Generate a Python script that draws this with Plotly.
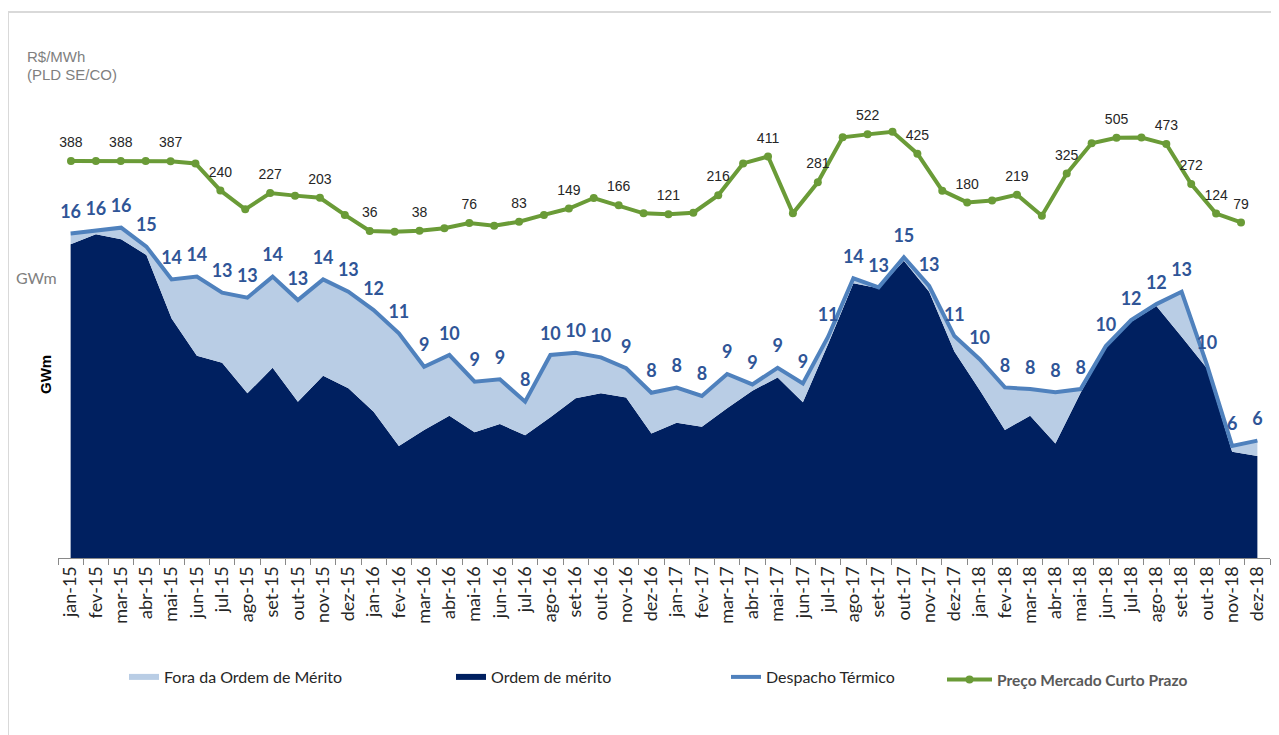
import plotly.graph_objects as go

months = ["jan-15","fev-15","mar-15","abr-15","mai-15","jun-15","jul-15","ago-15","set-15","out-15","nov-15","dez-15",
          "jan-16","fev-16","mar-16","abr-16","mai-16","jun-16","jul-16","ago-16","set-16","out-16","nov-16","dez-16",
          "jan-17","fev-17","mar-17","abr-17","mai-17","jun-17","jul-17","ago-17","set-17","out-17","nov-17","dez-17",
          "jan-18","fev-18","mar-18","abr-18","mai-18","jun-18","jul-18","ago-18","set-18","out-18","nov-18","dez-18"]

# Despacho Térmico total (GWm)
despacho = [15.71, 15.84, 15.98, 15.09, 13.55, 13.68, 12.93, 12.69, 13.68, 12.58, 13.55, 12.97,
            12.11, 11.02, 9.45, 10.0, 8.75, 8.86, 7.81, 10.0, 10.11, 9.89, 9.38, 8.23,
            8.47, 8.08, 9.11, 8.62, 9.4, 8.67, 10.86, 13.6, 13.18, 14.59, 13.24, 10.89,
            9.8, 8.48, 8.4, 8.25, 8.4, 10.42, 11.64, 12.39, 12.97, 9.55, 5.73, 5.98]

# Ordem de mérito (GWm)
ordem = [15.2, 15.67, 15.43, 14.7, 11.72, 9.97, 9.64, 8.2, 9.4, 7.81, 9.03, 8.44,
         7.34, 5.73, 6.48, 7.15, 6.37, 6.76, 6.23, 7.08, 7.97, 8.2, 8.01, 6.32,
         6.82, 6.63, 7.5, 8.32, 8.95, 7.78, 10.52, 13.37, 13.13, 14.43, 12.97, 10.16,
         8.36, 6.48, 7.15, 5.85, 8.23, 10.39, 11.56, 12.3, 10.86, 9.38, 5.46, 5.26]

fora = [round(d - o, 2) for d, o in zip(despacho, ordem)]

# Preço Mercado Curto Prazo (R$/MWh, PLD SE/CO)
preco = [388, 388, 388, 388, 387, 376, 240, 145, 227, 214, 203, 117,
         36, 33, 38, 50, 76, 63, 83, 117, 149, 202, 166, 125,
         121, 128, 216, 376, 411, 125, 281, 507, 522, 535, 425, 239,
         180, 190, 219, 113, 325, 477, 505, 506, 473, 272, 124, 79]

# months whose price is labelled on the chart
preco_rotulado = [0, 2, 4, 6, 8, 10, 12, 14, 16, 18, 20, 22, 24, 26, 28, 30,
                  32, 34, 36, 38, 40, 42, 44, 45, 46, 47]

preco_text = [str(v) if i in preco_rotulado else "" for i, v in enumerate(preco)]
preco_idx = list(range(len(preco)))

NAVY = "#002060"
LIGHT = "#B9CDE5"
LINEBLUE = "#4F81BD"
LABELBLUE = "#2F5597"
GREEN = "#6A9B37"

fig = go.Figure()

fig.add_trace(go.Scatter(
    x=months, y=ordem, name="Ordem de mérito", stackgroup="g", mode="none",
    fillcolor=NAVY, legend="legend2", hoverinfo="skip"))
fig.add_trace(go.Scatter(
    x=months, y=fora, name="Fora da Ordem de Mérito", stackgroup="g", mode="none",
    fillcolor=LIGHT, legend="legend", hoverinfo="skip"))
fig.add_trace(go.Scatter(
    x=months, y=despacho, name="Despacho Térmico", mode="lines",
    line=dict(color=LINEBLUE, width=4), legend="legend3"))
fig.add_trace(go.Scatter(
    x=months, y=despacho, mode="markers+text", showlegend=False,
    marker=dict(size=16, color="rgba(0,0,0,0)"),
    texttemplate="%{y:.0f}", textposition="top center",
    textfont=dict(family="Lato", size=18, color=LABELBLUE, weight="bold"),
    cliponaxis=False, hoverinfo="skip"))
fig.add_trace(go.Scatter(
    x=preco_idx, y=preco, name="Preço Mercado Curto Prazo",
    mode="lines+markers",
    line=dict(color=GREEN, width=4), marker=dict(color=GREEN, size=8),
    xaxis="x2", yaxis="y2", legend="legend4", cliponaxis=False))
fig.add_trace(go.Scatter(
    x=preco_idx, y=preco, mode="markers+text", text=preco_text, textposition="top center",
    textfont=dict(family="Liberation Sans", size=14, color="#262626"),
    marker=dict(size=15, color="rgba(0,0,0,0)"), showlegend=False,
    xaxis="x2", yaxis="y2", cliponaxis=False, hoverinfo="skip"))

# page body adds an 8px offset; figure is sized/placed to compensate
OFF = 8
W, H = 1279 - OFF, 735 - OFF
L, R, T, B = 58, 1270, 100, 558          # plot area in screen pixels
pw, ph = R - L, B - T

def px(x):
    return (x - L) / pw

def py(y):
    return (B - y) / ph

legend_common = dict(orientation="h", yanchor="middle", xanchor="left",
                     bgcolor="rgba(0,0,0,0)", font=dict(family="Lato", size=16, color="#262626"))

fig.update_layout(
    width=W, height=H,
    margin=dict(l=L - OFF, r=W - (R - OFF), t=T - OFF, b=H - (B - OFF), autoexpand=False),
    paper_bgcolor="white", plot_bgcolor="white",
    xaxis=dict(type="category", range=[-0.5, 47.5], tickangle=-90, tickson="boundaries",
               ticks="outside", ticklen=6, tickcolor="#898989", showline=True,
               linecolor="#898989", linewidth=1, showgrid=False, zeroline=False,
               tickfont=dict(family="Lato", size=18, color="#262626"), automargin=False),
    yaxis=dict(range=[0.47, 0.47 + ph / 21.3], visible=False, showgrid=False),
    xaxis2=dict(range=[-0.522, 48.165], overlaying="x", anchor="y", visible=False),
    yaxis2=dict(range=[-1607.8, 694.8], overlaying="y", anchor="x", visible=False),
    showlegend=True,
    legend=dict(x=px(124), y=py(677), **legend_common),
    legend2=dict(x=px(451), y=py(677), **legend_common),
    legend3=dict(x=px(726), y=py(677), **legend_common),
    legend4=dict(x=px(942), y=py(680), itemwidth=45, **{**legend_common,
                 "font": dict(family="Lato", size=15.5, color="#595959", weight="bold")}),
)

fig.add_shape(type="rect", xref="paper", yref="paper",
              x0=px(8), x1=px(1275), y0=py(760), y1=py(12),
              line=dict(color="#D9D9D9", width=2), fillcolor="rgba(0,0,0,0)", layer="below")

fig.add_annotation(text="R$/MWh", xref="paper", yref="paper", x=px(25), y=py(57),
                   xanchor="left", yanchor="middle", showarrow=False,
                   font=dict(family="Liberation Sans", size=15, color="#7F7F7F"))
fig.add_annotation(text="(PLD SE/CO)", xref="paper", yref="paper", x=px(25), y=py(75),
                   xanchor="left", yanchor="middle", showarrow=False,
                   font=dict(family="Liberation Sans", size=15, color="#7F7F7F"))
fig.add_annotation(text="GWm", xref="paper", yref="paper", x=px(14), y=py(277),
                   xanchor="left", yanchor="middle", showarrow=False,
                   font=dict(family="Lato", size=16, color="#808080"))
fig.add_annotation(text="<b>GWm</b>", xref="paper", yref="paper", x=px(45), y=py(375),
                   xanchor="center", yanchor="middle", showarrow=False, textangle=-90,
                   font=dict(family="Liberation Sans", size=15, color="#000000"))

fig.write_html("out.html")
